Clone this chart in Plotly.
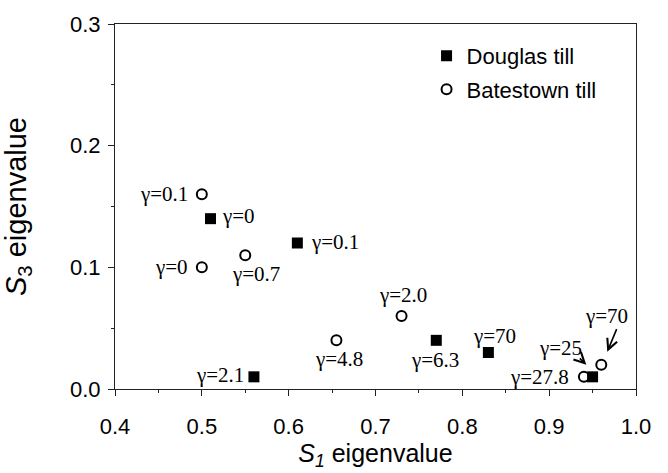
import plotly.graph_objects as go

# Douglas till (filled squares)
douglas_s1 = [0.51, 0.61, 0.56, 0.77, 0.83, 0.95]
douglas_s3 = [0.14, 0.12, 0.01, 0.04, 0.03, 0.01]
douglas_gamma = ["0", "0.1", "2.1", "6.3", "70", "27.8"]

# Batestown till (open circles)
bates_s1 = [0.50, 0.50, 0.55, 0.73, 0.655, 0.94, 0.96]
bates_s3 = [0.16, 0.10, 0.11, 0.06, 0.04, 0.01, 0.02]
bates_gamma = ["0.1", "0", "0.7", "2.0", "4.8", "25", "70"]

# label placement: (xanchor, xshift, yshift)
douglas_lab = [("left", 9, 3), ("left", 12, 1), ("right", -8, 2),
               ("center", -1, -20), ("center", 6, 17), ("right", -22, 0)]
bates_lab = [("right", -12, 0), ("right", -12, 0), ("center", 11, -19),
             ("center", 1, 21), ("center", 3, -19), ("right", 0, 29), ("center", 5, 49)]

SANS = "Arial, Liberation Sans, sans-serif"
SERIF = "Times New Roman, Liberation Serif, serif"

fig = go.Figure()
fig.add_trace(go.Scatter(
    x=douglas_s1, y=douglas_s3, mode="markers", name="Douglas till",
    legendgroup="a",
    marker=dict(symbol="square", size=11, color="black", line=dict(width=0)),
))
fig.add_trace(go.Scatter(
    x=bates_s1, y=bates_s3, mode="markers", name="Batestown till",
    legendgroup="b",
    marker=dict(symbol="circle-open", size=10, color="black", line=dict(width=2, color="black")),
))

anns = []
for xs, ys, gs, labs in [(douglas_s1, douglas_s3, douglas_gamma, douglas_lab),
                         (bates_s1, bates_s3, bates_gamma, bates_lab)]:
    for x, y, g, (xa, dx, dy) in zip(xs, ys, gs, labs):
        anns.append(dict(x=x, y=y, xref="x", yref="y", text="γ=" + g,
                         showarrow=False, xanchor=xa, yanchor="middle",
                         xshift=dx, yshift=dy,
                         font=dict(family=SERIF, size=21, color="black")))

# arrows pointing to Batestown γ=25 and γ=70 points
for idx, (dx, dy, ax, ay) in [(5, (2.4, 12, -8, -8)), (6, (6, 13, 10, -24))]:
    anns.append(dict(x=bates_s1[idx], y=bates_s3[idx], xref="x", yref="y", text="",
                     showarrow=True, arrowhead=5, arrowsize=1.3, arrowwidth=1.6,
                     arrowcolor="black", ax=ax, ay=ay, xshift=dx, yshift=dy,
                     standoff=0, startstandoff=0))

fig.update_layout(
    width=668, height=473,
    margin=dict(l=115, r=32, t=24, b=84),
    paper_bgcolor="white", plot_bgcolor="white",
    showlegend=True,
    legend=dict(x=0.598, y=0.97, xanchor="left", yanchor="top",
                font=dict(family=SANS, size=22, color="black"),
                bgcolor="rgba(0,0,0,0)", traceorder="grouped", tracegroupgap=2),
    annotations=anns,
    font=dict(family=SANS, color="black"),
)
fig.update_xaxes(
    range=[0.4, 1.0], dtick=0.1, tickformat=".1f", automargin=False,
    showgrid=False, zeroline=False,
    showline=True, linecolor="#222", linewidth=1.2, mirror=True,
    ticks="outside", ticklen=6, tickwidth=1.2, tickcolor="#222",
    minor=dict(dtick=0.05, ticks="outside", ticklen=3, tickcolor="#222", tickwidth=1),
    tickfont=dict(family=SANS, size=22, color="black"),
    ticklabelstandoff=11,
    title=dict(text="<i>S<sub>1</sub></i> eigenvalue", font=dict(family=SANS, size=25, color="black"),
               standoff=6),
)
fig.update_yaxes(
    range=[0.0, 0.3], dtick=0.1, tickformat=".1f", automargin=False,
    showgrid=False, zeroline=False,
    showline=True, linecolor="#222", linewidth=1.2, mirror=True,
    ticks="outside", ticklen=6, tickwidth=1.2, tickcolor="#222",
    minor=dict(dtick=0.05, ticks="outside", ticklen=3, tickcolor="#222", tickwidth=1),
    tickfont=dict(family=SANS, size=22, color="black"),
    ticklabelstandoff=3,
    title=dict(text="<i>S</i><sub>3</sub> eigenvalue", font=dict(family=SANS, size=29, color="black"),
               standoff=40),
)

fig.write_html("out.html", config={"displayModeBar": False},
               post_script="document.body.style.margin='0px';")
